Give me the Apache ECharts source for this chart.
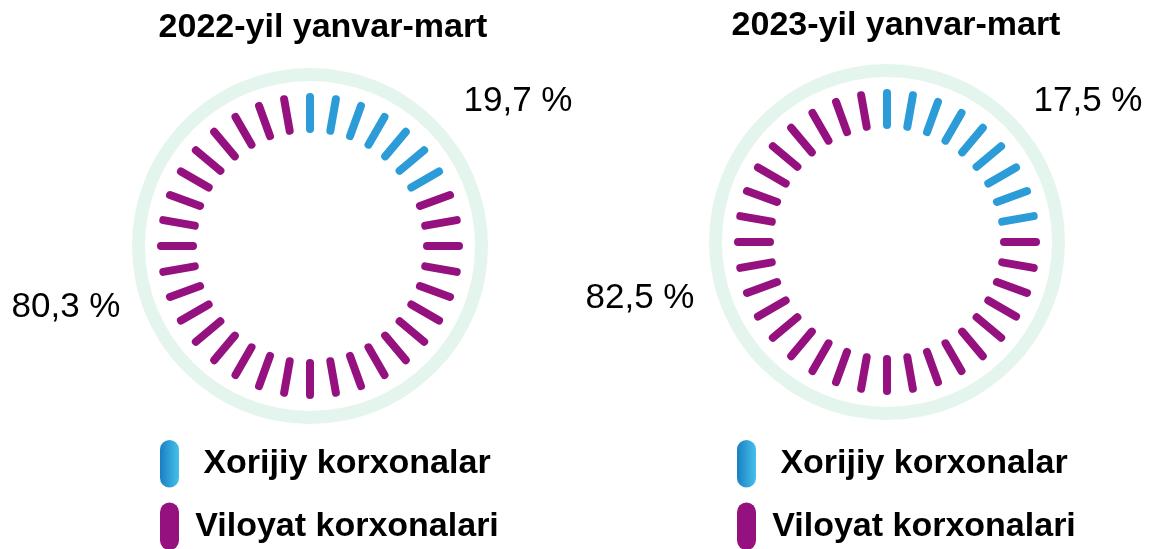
<!DOCTYPE html>
<html>

<head>
    <meta charset="utf-8" />
    <title>Korxonalar ulushi</title>
    <script src="https://cdn.jsdelivr.net/npm/echarts@6/dist/echarts.min.js"></script>
    <style>
        html,
        body {
            margin: 0;
            padding: 0;
            background: #fff;
        }

        #main {
            width: 1149px;
            height: 549px;
        }
    </style>
</head>

<body>
    <div id="main"></div>
</body>

<script>
    // data
    var periods = ['2022-yil yanvar-mart', '2023-yil yanvar-mart'];
    var names = ['Xorijiy korxonalar', 'Viloyat korxonalari'];
    var foreignShare = [19.7, 17.5];
    var regionalShare = [80.3, 82.5];
    // blue dashes as they are drawn in the picture (out of 36)
    var foreignDashes = [7, 9];
    var dashCount = 36;

    // layout
    var centers = [[310, 246], [887, 242]];
    var titlePos = [[323, 28], [896, 26]];
    var foreignLabelPos = [[518, 101], [1088, 101]];
    var regionalLabelPos = [[66, 307], [640, 298]];
    var legendLeft = [160, 737];

    var blue = '#2b9cd7';
    var purple = '#95117f';
    var ringColor = '#e4f5ee';
    var blueGrad = new echarts.graphic.LinearGradient(0, 0, 1, 0, [
        { offset: 0, color: '#1a7fc1' },
        { offset: 1, color: '#45c0eb' }
    ]);
    var font = 'Liberation Sans';

    function fmt(v) {
        return v.toFixed(1).replace('.', ',') + ' %';
    }

    var myChart = echarts.init(document.getElementById('main'));

    var series = [];
    var graphic = [];
    var legends = [];

    for (var i = 0; i < periods.length; i++) {
        // light ring
        series.push({
            type: 'gauge',
            center: centers[i],
            radius: 178,
            startAngle: 90,
            endAngle: -270,
            silent: true,
            axisLine: { lineStyle: { width: 13, color: [[1, ringColor]] } },
            splitLine: { show: false },
            axisTick: { show: false },
            axisLabel: { show: false },
            pointer: { show: false },
            anchor: { show: false },
            title: { show: false },
            detail: { show: false },
            data: []
        });

        // dashes
        series.push({
            type: 'gauge',
            center: centers[i],
            radius: 149,
            startAngle: 90,
            endAngle: 90 - 360 + 360 / dashCount,
            min: 0,
            max: dashCount - 1,
            splitNumber: dashCount - 1,
            silent: true,
            axisLine: {
                show: true,
                lineStyle: {
                    width: 0,
                    opacity: 0,
                    color: [[(foreignDashes[i] - 0.5) / (dashCount - 1), blue], [1, purple]]
                }
            },
            splitLine: {
                show: true,
                distance: 0,
                length: 32,
                lineStyle: { color: 'auto', width: 8, cap: 'round' }
            },
            axisTick: { show: false },
            axisLabel: { show: false },
            pointer: { show: false },
            anchor: { show: false },
            progress: { show: false },
            title: { show: false },
            detail: { show: false },
            data: [{ value: foreignDashes[i] }]
        });

        // invisible pie, only feeds the legend
        series.push({
            type: 'pie',
            center: centers[i],
            radius: [0, 0],
            silent: true,
            label: { show: false },
            labelLine: { show: false },
            data: [
                { name: names[0], value: foreignShare[i], itemStyle: { color: blueGrad } },
                { name: names[1], value: regionalShare[i], itemStyle: { color: purple } }
            ]
        });

        graphic.push({
            type: 'text', x: titlePos[i][0], y: titlePos[i][1],
            style: {
                text: periods[i], fill: '#000', fontSize: 34, fontWeight: 'bold', fontFamily: font,
                align: 'center', verticalAlign: 'middle'
            }
        });
        graphic.push({
            type: 'text', x: foreignLabelPos[i][0], y: foreignLabelPos[i][1],
            style: {
                text: fmt(foreignShare[i]), fill: '#000', fontSize: 35, fontFamily: font,
                align: 'center', verticalAlign: 'middle'
            }
        });
        graphic.push({
            type: 'text', x: regionalLabelPos[i][0], y: regionalLabelPos[i][1],
            style: {
                text: fmt(regionalShare[i]), fill: '#000', fontSize: 35, fontFamily: font,
                align: 'center', verticalAlign: 'middle'
            }
        });

        legends.push({
            left: legendLeft[i],
            top: 440,
            width: 400,
            height: 200,
            orient: 'vertical',
            padding: 0,
            itemWidth: 19,
            itemHeight: 50,
            itemGap: 15,
            selectedMode: false,
            icon: 'path://M0,10 A10,10 0 0 1 20,10 L20,40 A10,10 0 0 1 0,40 Z',
            data: names,
            formatter: function (name) {
                return '{t|' + name + '}';
            },
            textStyle: {
                color: '#000',
                fontSize: 34,
                fontWeight: 'bold',
                fontFamily: font,
                rich: {
                    t: { width: 326, align: 'center', color: '#000', fontSize: 34, fontWeight: 'bold', fontFamily: font }
                }
            }
        });
    }

    var option = {
        animation: false,
        legend: legends,
        graphic: graphic,
        series: series
    };

    myChart.setOption(option);
</script>

</html>
